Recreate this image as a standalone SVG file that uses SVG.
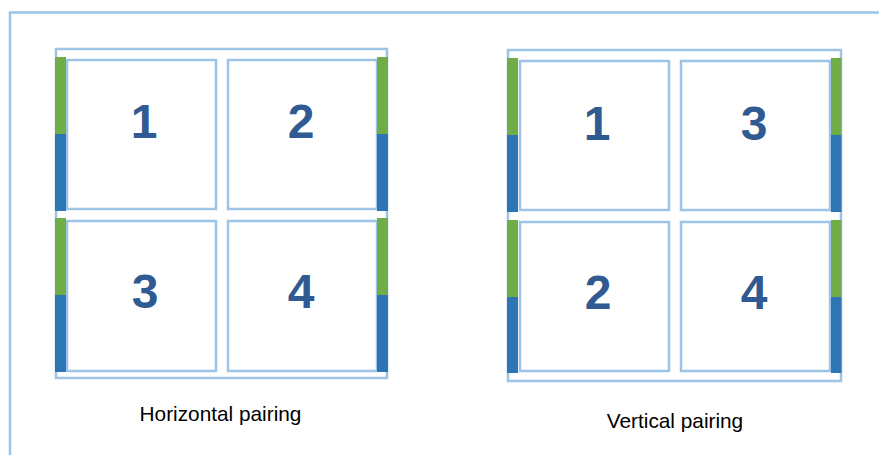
<svg xmlns="http://www.w3.org/2000/svg" width="879" height="455" viewBox="0 0 879 455">
  <style>
    .frame { fill: none; stroke: #9DC3E6; stroke-width: 2.5; }
    .box { fill: #FFFFFF; stroke: #9DC3E6; stroke-width: 2.5; }
    .cell { fill: #FFFFFF; stroke: #9DC3E6; stroke-width: 2.5; }
    .num { font-family: "Liberation Sans", Arial, sans-serif; font-weight: bold; font-size: 48px; fill: #2F5A92; text-anchor: middle; }
    .label { font-family: "Liberation Sans", Arial, sans-serif; font-size: 20.8px; fill: #000000; text-anchor: middle; }
    .green { fill: #70AD47; }
    .blue { fill: #2E75B6; }
  </style>
  <rect width="879" height="455" fill="#FFFFFF"/>
  <path class="frame" d="M 10 455 V 12.5 H 879"/>

  <!-- Horizontal pairing -->
  <g id="horizontal">
    <rect class="box" x="56" y="49" width="331" height="329"/>
    <g id="h-cell-1"><rect class="cell" x="67" y="60" width="149" height="149"/><text class="num" x="144" y="138">1</text></g>
    <g id="h-cell-2"><rect class="cell" x="228" y="60" width="149" height="149"/><text class="num" x="301" y="138">2</text></g>
    <g id="h-cell-3"><rect class="cell" x="67" y="221" width="149" height="150"/><text class="num" x="145" y="308">3</text></g>
    <g id="h-cell-4"><rect class="cell" x="228" y="221" width="149" height="150"/><text class="num" x="301" y="308">4</text></g>
    <g id="h-bars">
      <rect class="green" x="55" y="57" width="11" height="77"/>
      <rect class="blue" x="55" y="134" width="11" height="77"/>
      <rect class="green" x="55" y="218" width="11" height="77"/>
      <rect class="blue" x="55" y="295" width="11" height="77"/>
      <rect class="green" x="377" y="57" width="11" height="77"/>
      <rect class="blue" x="377" y="134" width="11" height="77"/>
      <rect class="green" x="377" y="218" width="11" height="77"/>
      <rect class="blue" x="377" y="295" width="11" height="77"/>
    </g>
    <text class="label" x="220.5" y="421">Horizontal pairing</text>
  </g>

  <!-- Vertical pairing -->
  <g id="vertical">
    <rect class="box" x="508" y="50" width="333" height="331"/>
    <g id="v-cell-1"><rect class="cell" x="520" y="61" width="149" height="149"/><text class="num" x="597" y="140">1</text></g>
    <g id="v-cell-3"><rect class="cell" x="681" y="61" width="149" height="149"/><text class="num" x="754" y="140">3</text></g>
    <g id="v-cell-2"><rect class="cell" x="520" y="222" width="149" height="149"/><text class="num" x="598" y="309">2</text></g>
    <g id="v-cell-4"><rect class="cell" x="681" y="222" width="149" height="149"/><text class="num" x="754" y="309">4</text></g>
    <g id="v-bars">
      <rect class="green" x="507" y="58" width="11" height="77"/>
      <rect class="blue" x="507" y="135" width="11" height="77"/>
      <rect class="green" x="507" y="220" width="11" height="77"/>
      <rect class="blue" x="507" y="297" width="11" height="76"/>
      <rect class="green" x="831" y="58" width="10.5" height="77"/>
      <rect class="blue" x="831" y="135" width="10.5" height="77"/>
      <rect class="green" x="831" y="220" width="10.5" height="77"/>
      <rect class="blue" x="831" y="297" width="10.5" height="76"/>
    </g>
    <text class="label" x="675" y="428">Vertical pairing</text>
  </g>

  <g id="connectors"/>
</svg>
